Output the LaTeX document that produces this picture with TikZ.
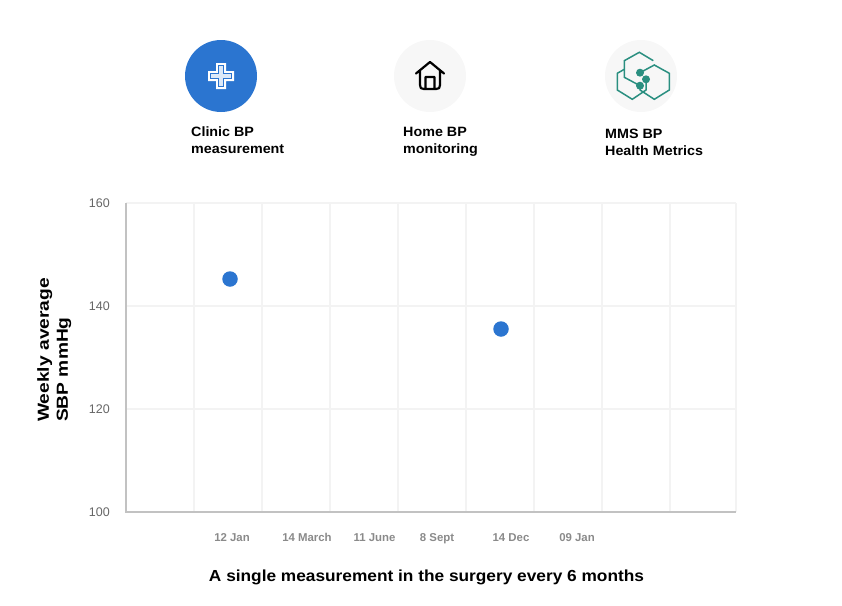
\documentclass[tikz,border=0pt]{standalone}
\usepackage{fontspec}
\setmainfont{Liberation Sans}
\newfontfamily\widefont[FakeStretch=1.06]{Liberation Sans}
\newfontfamily\widerfont[FakeStretch=1.08]{Liberation Sans}
\newfontfamily\widestfont[FakeStretch=1.2]{Liberation Sans}
\definecolor{bluedot}{HTML}{2B75D0}
\definecolor{crossin}{HTML}{DCE9F8}
\definecolor{gridc}{HTML}{F3F3F3}
\definecolor{axisc}{HTML}{C2C2C2}
\definecolor{ticklab}{HTML}{666666}
\definecolor{datelab}{HTML}{8A8A8A}
\definecolor{iconbg}{HTML}{F7F7F7}
\definecolor{teal}{HTML}{2A8F80}
\tikzset{
 gridline/.style={gridc,line width=1.3pt},
 axisline/.style={axisc,line width=1.3pt},
 ylab/.style={text=ticklab,font=\fontsize{12.5}{14}\selectfont,anchor=east,inner sep=0pt},
 datelabel/.style={text=datelab,font=\bfseries\fontsize{11.4}{12}\selectfont,inner sep=0pt,anchor=base},
 iconlab/.style={font=\widefont\bfseries\fontsize{13.5}{17}\selectfont,align=left,anchor=north west,inner sep=0pt,text=black},
 datadot/.style={circle,fill=bluedot,minimum size=15.5pt,inner sep=0pt},
 iconcircle/.style={circle,minimum size=72pt,inner sep=0pt},
 hexline/.style={teal,line width=1.5pt,line join=miter},
 hexdot/.style={circle,fill=teal,minimum size=8pt,inner sep=0pt},
}
\begin{document}
\begin{tikzpicture}[x=1pt,y=-1pt]
\useasboundingbox (0,0) rectangle (842,605);
% grid
\foreach \x in {194,262,330,398,466,534,602,670,736}
  \draw[gridline] (\x,203) -- (\x,512);
\foreach \y in {203,306,409}
  \draw[gridline] (126,\y) -- (736,\y);
\draw[axisline] (126,203) -- (126,512) -- (736,512);
% y labels
\node[ylab] (y160) at (110,203) {160};
\node[ylab] (y140) at (110,306) {140};
\node[ylab] (y120) at (110,409) {120};
\node[ylab] (y100) at (110,512) {100};
% x labels
\node[datelabel] (d1) at (232,541) {12 Jan};
\node[datelabel] (d2) at (307,541) {14 March};
\node[datelabel] (d3) at (374.5,541) {11 June};
\node[datelabel] (d4) at (437,541) {8 Sept};
\node[datelabel] (d5) at (511,541) {14 Dec};
\node[datelabel] (d6) at (577,541) {09 Jan};
% titles
\node[font=\widerfont\bfseries\fontsize{16}{18}\selectfont,inner sep=0pt,anchor=base] (xtitle) at (426.5,581) {A single measurement in the surgery every 6 months};
\node[font=\widestfont\bfseries\fontsize{16}{19}\selectfont,align=left,rotate=90,inner sep=0pt,anchor=south west] (ytitle) at (71.5,422) {Weekly average\\SBP mmHg};
% data
\node[datadot] (p1) at (230,279) {};
\node[datadot] (p2) at (501,329) {};
% icon 1
\node[iconcircle,fill=bluedot] (c1) at (221,76) {};
\fill[white]
 (216,63) -- (226,63) -- (226,71) -- (234,71) -- (234,81) -- (226,81) -- (226,89) -- (216,89) -- (216,81) -- (208,81) -- (208,71) -- (216,71) -- cycle;
\draw[bluedot,line width=1.1pt,fill=crossin]
 (218.2,65.2) -- (223.8,65.2) -- (223.8,73.2) -- (231.8,73.2) -- (231.8,78.8) -- (223.8,78.8) -- (223.8,86.8) -- (218.2,86.8) -- (218.2,78.8) -- (210.2,78.8) -- (210.2,73.2) -- (218.2,73.2) -- cycle;
% icon 2
\node[iconcircle,fill=iconbg] (c2) at (430,76) {};
\draw[black,line width=2.2pt,line join=round,line cap=round]
 (416,73.5) -- (430,62) -- (444,73.5)
 (420,71) -- (420,85) .. controls (420,88) and (421,89) .. (424,89) -- (436,89) .. controls (439,89) and (440,88) .. (440,85) -- (440,71)
 (425.5,89) -- (425.5,77) -- (434.5,77) -- (434.5,89);
% icon 3
\node[iconcircle,fill=iconbg] (c3) at (641,76) {};
\draw[hexline] (640,72.7) -- (654.3,65) -- (669.3,73.3) -- (669.3,90) -- (654.3,99.3) -- (640,90) -- (640,85.7);
\draw[hexline] (653.3,60.7) -- (639.3,52.3) -- (624.3,60.7) -- (624.3,77.3) -- (640,85.7);
\draw[hexline] (624.3,69.3) -- (617.3,73.3) -- (617.3,90) -- (632.3,99.3) -- (646,90) -- (646,79.3);
\node[hexdot] (h1) at (640,72.7) {};
\node[hexdot] (h2) at (646,79.3) {};
\node[hexdot] (h3) at (640,85.7) {};
% icon labels
\node[iconlab] (t1) at (191,127) {Clinic BP\\measurement};
\node[iconlab] (t2) at (403,127) {Home BP\\monitoring};
\node[iconlab] (t3) at (605,129) {MMS BP\\Health Metrics};
\end{tikzpicture}
\end{document}
